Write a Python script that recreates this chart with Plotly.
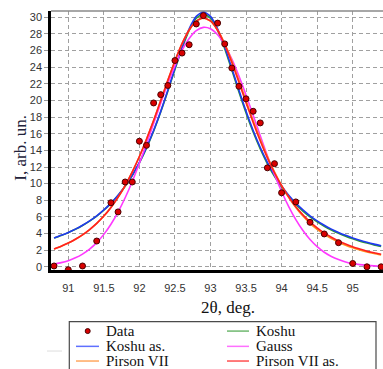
import plotly.graph_objects as go

# ---- measured diffraction profile ----
theta_data = [90.8, 91.0, 91.2, 91.4, 91.6, 91.7, 91.8, 91.9, 92.0, 92.1, 92.2, 92.3,
              92.4, 92.5, 92.6, 92.7, 92.8, 92.9, 93.1, 93.2, 93.3, 93.4, 93.5, 93.6,
              93.7, 93.8, 93.9, 94.0, 94.2, 94.4, 94.6, 94.8, 95.0, 95.2, 95.4]
intensity_data = [0.1, -0.35, 0.1, 3.1, 7.7, 6.6, 10.2, 10.2, 15.1, 14.6, 19.7, 20.7,
                  21.8, 24.8, 25.7, 26.7, 29.2, 30.2, 29.3, 26.8, 23.9, 21.7, 20.2, 18.7,
                  17.3, 11.9, 12.4, 8.9, 7.8, 5.35, 3.95, 2.9, 0.4, 0.0, 0.0]

# ---- fitted profiles, sampled every 0.1 deg ----
theta_fit = [90.8, 90.9, 91.0, 91.1, 91.2, 91.3, 91.4, 91.5, 91.6, 91.7, 91.8, 91.9,
             92.0, 92.1, 92.2, 92.3, 92.4, 92.5, 92.6, 92.7, 92.8, 92.9, 93.0, 93.1,
             93.2, 93.3, 93.4, 93.5, 93.6, 93.7, 93.8, 93.9, 94.0, 94.1, 94.2, 94.3,
             94.4, 94.5, 94.6, 94.7, 94.8, 94.9, 95.0, 95.1, 95.2, 95.3, 95.4]

koshu = [3.45, 3.76, 4.11, 4.51, 4.97, 5.50, 6.10, 6.80, 7.62, 8.57, 9.68, 10.98,
         12.50, 14.27, 16.30, 18.60, 21.11, 23.72, 26.25, 28.41, 29.88, 30.42, 29.90, 28.42,
         26.22, 23.66, 21.02, 18.50, 16.20, 14.16, 12.39, 10.87, 9.57, 8.46, 7.51, 6.70,
         6.00, 5.40, 4.88, 4.42, 4.02, 3.67, 3.36, 3.09, 2.85, 2.63, 2.44]

koshu_as = [3.47, 3.78, 4.13, 4.53, 4.99, 5.52, 6.13, 6.84, 7.66, 8.61, 9.73, 11.03,
            12.56, 14.34, 16.38, 18.69, 21.22, 23.86, 26.42, 28.62, 30.11, 30.65, 30.11, 28.62,
            26.42, 23.86, 21.22, 18.69, 16.38, 14.34, 12.56, 11.03, 9.73, 8.61, 7.66, 6.84,
            6.13, 5.52, 4.99, 4.53, 4.13, 3.78, 3.47, 3.19, 2.95, 2.73, 2.53]

gauss = [0.33, 0.50, 0.74, 1.08, 1.53, 2.13, 2.91, 3.90, 5.12, 6.58, 8.30, 10.26,
         12.44, 14.78, 17.22, 19.67, 22.03, 24.18, 26.02, 27.45, 28.39, 28.79, 28.62, 27.89,
         26.65, 24.96, 22.92, 20.63, 18.21, 15.75, 13.36, 11.11, 9.06, 7.24, 5.67, 4.36,
         3.28, 2.42, 1.75, 1.24, 0.87, 0.59, 0.39, 0.26, 0.17, 0.11, 0.07]

pirson7 = [2.15, 2.48, 2.86, 3.31, 3.84, 4.48, 5.22, 6.10, 7.14, 8.36, 9.77, 11.41,
           13.26, 15.34, 17.60, 20.00, 22.42, 24.75, 26.83, 28.47, 29.53, 29.90, 29.53, 28.47,
           26.83, 24.75, 22.42, 20.00, 17.60, 15.34, 13.26, 11.41, 9.77, 8.36, 7.14, 6.10,
           5.22, 4.50, 3.90, 3.39, 2.96, 2.60, 2.29, 2.02, 1.79, 1.59, 1.42]

pirson7_as = [2.15, 2.48, 2.86, 3.31, 3.84, 4.48, 5.22, 6.10, 7.14, 8.36, 9.77, 11.41,
              13.26, 15.34, 17.60, 20.00, 22.42, 24.75, 26.83, 28.47, 29.53, 29.95, 29.56, 28.44,
              26.71, 24.56, 22.18, 19.73, 17.35, 15.12, 13.10, 11.31, 9.75, 8.40, 7.23, 6.24,
              5.40, 4.68, 4.07, 3.55, 3.11, 2.73, 2.40, 2.13, 1.88, 1.68, 1.50]

x_ticks = [91, 91.5, 92, 92.5, 93, 93.5, 94, 94.5, 95]
x_ticklabels = ["91", "91.5", "92", "92.5", "93", "93.5", "94", "94.5", "95"]
y_ticks = list(range(0, 31, 2))

# ---- colours ----
C_GREEN, C_BLUE, C_MAGENTA = "#2f9a2f", "#2038f0", "#ff38ff"
C_ORANGE, C_RED = "#ff9020", "#ff2020"
C_POINT, C_POINT_EDGE = "#d80000", "#4a0000"
LEG = {"green": "#6fb86f", "blue": "#5f70ff", "magenta": "#ff70ff",
       "orange": "#ffa860", "red": "#ff5050"}

W, H = 383, 369
ML, MT, MR, MB = 51, 11, 0, 98.5
PW, PH = W - ML - MR, H - MT - MB


def px(xp):
    return (xp - ML) / PW


def py(yp):
    return (H - MB - yp) / PH


fig = go.Figure()
curves = [("Koshu", koshu, C_GREEN), ("Koshu as.", koshu_as, C_BLUE),
          ("Gauss", gauss, C_MAGENTA), ("Pirson VII", pirson7, C_ORANGE),
          ("Pirson VII as.", pirson7_as, C_RED)]
for name, vals, col in curves:
    fig.add_trace(go.Scatter(x=theta_fit, y=vals, mode="lines", name=name,
                             line=dict(color=col, width=1.6, shape="spline", smoothing=0.6),
                             showlegend=False))

fig.add_trace(go.Scatter(x=theta_data, y=intensity_data, mode="markers", name="Data",
                         marker=dict(size=6, color=C_POINT,
                                     line=dict(color=C_POINT_EDGE, width=1)),
                         showlegend=False))

grid = dict(showgrid=True, gridcolor="#a0a0a0", gridwidth=1, griddash="4px,3px",
            zeroline=False, showline=True, linecolor="black", linewidth=2.5,
            tickfont=dict(family="Liberation Sans, Arial", size=11, color="#333333"))

fig.update_xaxes(range=[90.757, 95.426], tickvals=x_ticks, ticktext=x_ticklabels,
                 ticks="outside", ticklen=6, tickcolor="rgba(0,0,0,0)", **grid)
fig.update_yaxes(range=[-0.384, 30.756], tickvals=y_ticks,
                 ticks="outside", ticklen=4, tickcolor="#999999", **grid)

shapes = [
    # top frame line
    dict(type="line", xref="paper", yref="paper", x0=0, x1=1, y0=1, y1=1,
         line=dict(color="#8a8a8a", width=1.5)),
    # legend frame
    dict(type="rect", xref="paper", yref="paper", x0=px(69.3), x1=px(376),
         y0=py(385), y1=py(322.3), line=dict(color="#4a4a4a", width=1.2),
         fillcolor="white"),
    dict(type="line", xref="paper", yref="paper", x0=px(47), x1=px(62),
         y0=py(351.7), y1=py(351.7), line=dict(color="#dddddd", width=1)),
]

annotations = [
    dict(text="2θ, deg.", x=px(228), y=py(308), xref="paper", yref="paper",
         showarrow=False, xanchor="center", yanchor="middle",
         font=dict(family="Liberation Serif, Times New Roman", size=17, color="#111111")),
    dict(text="I, arb. un.", x=px(21), y=py(148), xref="paper", yref="paper",
         showarrow=False, textangle=-90, xanchor="center", yanchor="middle",
         font=dict(family="Liberation Serif, Times New Roman", size=17, color="#22223a")),
]

legend_rows = [331.7, 347.0, 361.7]
legend_items = [
    (0, 0, "Data", None), (0, 1, "Koshu", LEG["green"]),
    (1, 0, "Koshu as.", LEG["blue"]), (1, 1, "Gauss", LEG["magenta"]),
    (2, 0, "Pirson VII", LEG["orange"]), (2, 1, "Pirson VII as.", LEG["red"]),
]
col_line = [(76, 99, 104), (227, 249, 254)]
for row, col, label, color in legend_items:
    yy = legend_rows[row]
    x0, x1, xt = col_line[col]
    if color is None:
        shapes.append(dict(type="circle", xref="paper", yref="paper",
                           x0=px(85.2), x1=px(90.2), y0=py(yy + 2.5), y1=py(yy - 2.5),
                           fillcolor=C_POINT, line=dict(color=C_POINT_EDGE, width=1)))
    else:
        shapes.append(dict(type="line", xref="paper", yref="paper",
                           x0=px(x0), x1=px(x1), y0=py(yy), y1=py(yy),
                           line=dict(color=color, width=1.5)))
    annotations.append(dict(text=label, x=px(xt), y=py(yy), xref="paper", yref="paper",
                            showarrow=False, xanchor="left", yanchor="middle",
                            font=dict(family="Liberation Serif, Times New Roman",
                                      size=15, color="#111111")))

fig.update_layout(width=W, height=H, margin=dict(l=ML, r=MR, t=MT, b=MB, pad=0),
                  plot_bgcolor="white", paper_bgcolor="white",
                  shapes=shapes, annotations=annotations, showlegend=False)

fig.write_html("out.html", config={"displayModeBar": False})
